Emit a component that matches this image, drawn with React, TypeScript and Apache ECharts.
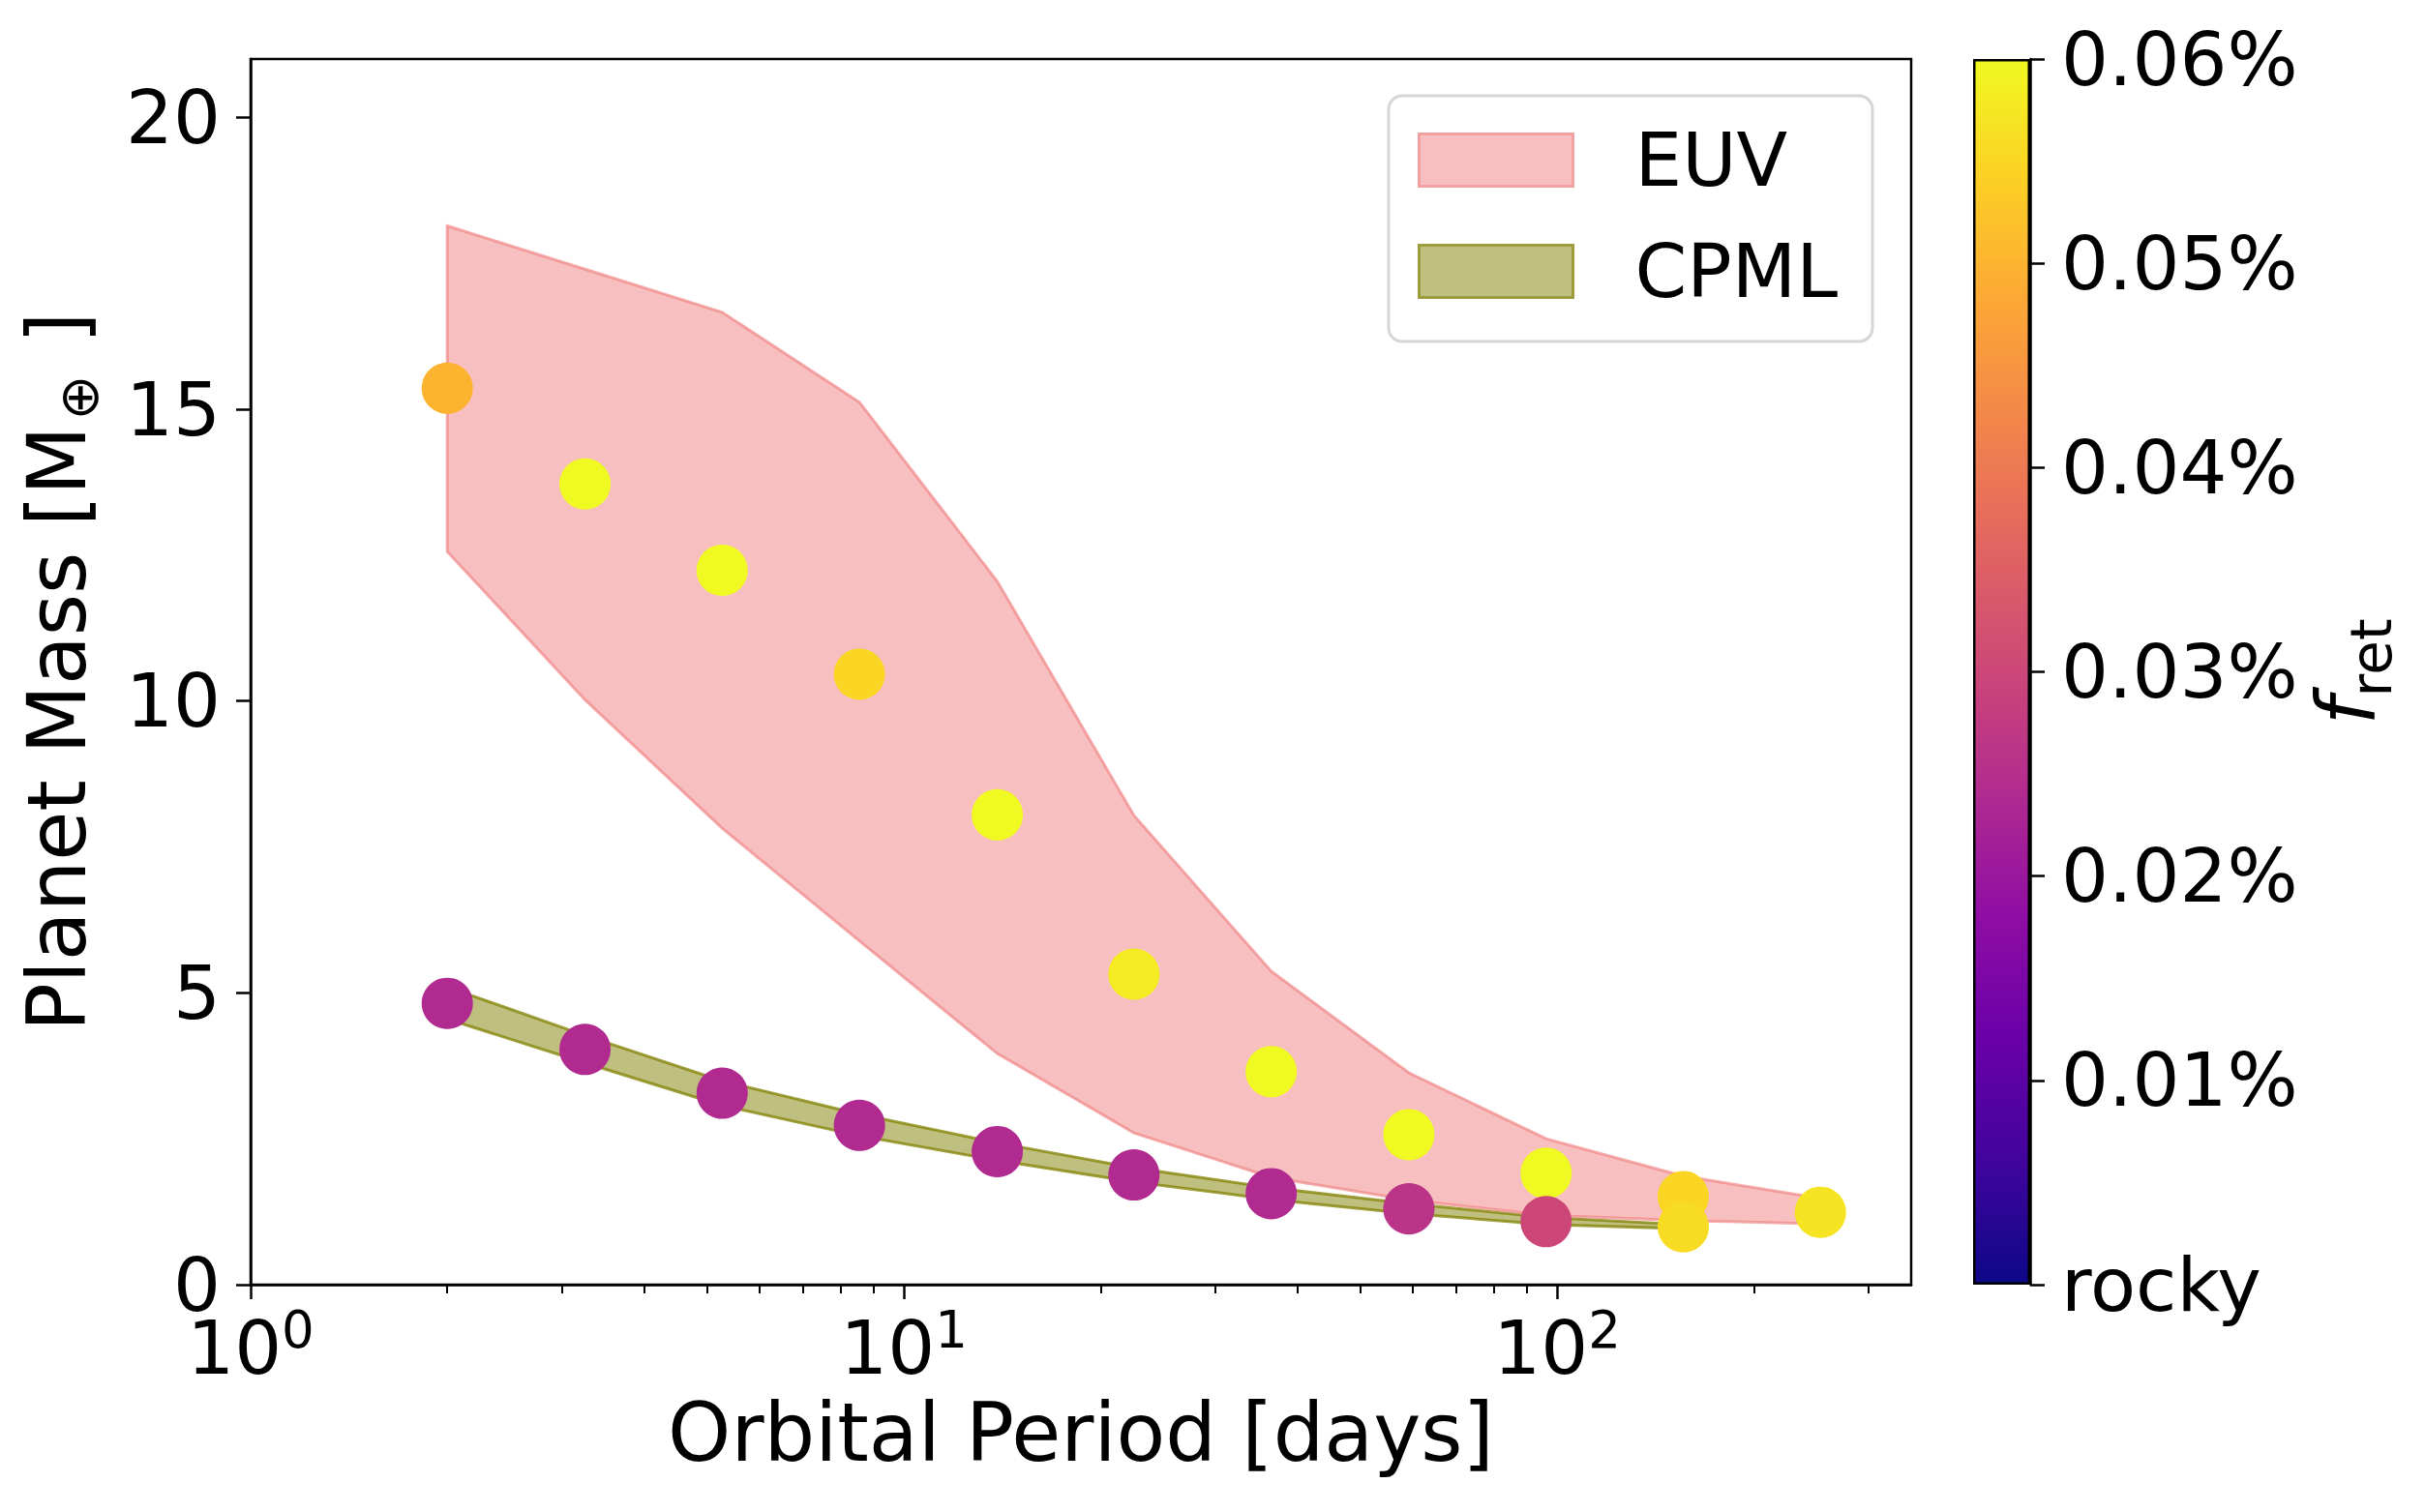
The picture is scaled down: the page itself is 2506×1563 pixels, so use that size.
import React, { useEffect, useRef } from "react";
import * as echarts from "echarts";

// ---- data ----
const periods = [2.0, 3.25, 5.27, 8.55, 13.9, 22.5, 36.5, 59.3, 96.2, 156, 253];
const euvMass = [15.36, 13.72, 12.24, 10.46, 8.05, 5.32, 3.65, 2.57, 1.91, 1.51, 1.24];
const euvFret = [0.05, 0.06, 0.06, 0.055, 0.06, 0.058, 0.06, 0.06, 0.06, 0.055, 0.057];
const cpmlMass = [4.82, 4.03, 3.28, 2.73, 2.28, 1.88, 1.56, 1.3, 1.08, 0.99];
const cpmlFret = [0.024, 0.024, 0.024, 0.024, 0.024, 0.024, 0.024, 0.026, 0.03, 0.056];
const euvUpper = [18.14, 17.4, 16.66, 15.12, 12.05, 8.04, 5.37, 3.63, 2.5, 1.86, 1.48];
const euvLower = [12.56, 10.02, 7.82, 5.89, 3.96, 2.6, 1.84, 1.45, 1.19, 1.1, 1.04];
const cpmlUpper = [5.1, 4.27, 3.49, 2.92, 2.43, 2.0, 1.66, 1.39, 1.15, 1.03];
const cpmlLower = [4.55, 3.8, 3.07, 2.55, 2.13, 1.76, 1.46, 1.22, 1.03, 0.96];

const yTicks = [0, 5, 10, 15, 20];
const xDecades = [0, 1, 2];
const xMinorValues = [2, 3, 4, 5, 6, 7, 8, 9, 20, 30, 40, 50, 60, 70, 80, 90, 200, 300];
const cbTicks = [0, 0.01, 0.02, 0.03, 0.04, 0.05, 0.06];
const plasma = [
  "#0d0887", "#41049d", "#6a00a8", "#8f0da4", "#b12a90", "#cc4778",
  "#e16462", "#f2844b", "#fca636", "#fcce25", "#f0f921",
];

const FONT = "DejaVu Sans";
const X_MAX = 2.542;

function bandSeries(name: string, upper: number[], lower: number[], fill: string, stroke: string) {
  return {
    type: "custom",
    name,
    xAxisIndex: 0,
    yAxisIndex: 0,
    data: [[Math.log10(periods[0]), upper[0]]],
    itemStyle: { color: fill },
    renderItem: (_p: any, api: any) => {
      const n = upper.length;
      const pts: number[][] = [];
      for (let i = 0; i < n; i++) pts.push(api.coord([Math.log10(periods[i]), upper[i]]));
      for (let i = n - 1; i >= 0; i--) pts.push(api.coord([Math.log10(periods[i]), lower[i]]));
      return {
        type: "polygon",
        shape: { points: pts },
        style: { fill, stroke, lineWidth: 3 },
      };
    },
  };
}

export default function App() {
  const ref = useRef<HTMLDivElement>(null);
  useEffect(() => {
    if (!ref.current) return;
    const chart = echarts.init(ref.current, null, { renderer: "svg" });
    const gradStops = plasma.map((c, i) => ({ offset: i / (plasma.length - 1), color: c }));
    const option: any = {
      animation: false,
      backgroundColor: "#ffffff",
      textStyle: { fontFamily: FONT },
      grid: [
        { left: 259, top: 61, width: 1716, height: 1267, show: true, borderColor: "#000", borderWidth: 2.5 },
        { left: 2039, top: 61, width: 59, height: 1267, show: false },
      ],
      xAxis: [
        {
          type: "value",
          gridIndex: 0,
          min: 0,
          max: X_MAX,
          splitLine: { show: false },
          axisLine: { show: true, onZero: false, lineStyle: { color: "#000", width: 2.5 } },
          axisTick: { show: true, customValues: xDecades, length: 15, lineStyle: { color: "#000", width: 2.5 } },
          axisLabel: {
            customValues: xDecades,
            margin: 20,
            formatter: (v: number) => `{b|10}{s|${Math.round(v)}}`,
            rich: {
              b: { fontSize: 77, fontFamily: FONT, color: "#000", lineHeight: 90 },
              s: { fontSize: 53, fontFamily: FONT, color: "#000", lineHeight: 53, verticalAlign: "top" },
            },
          },
          name: "Orbital Period [days]",
          nameLocation: "middle",
          nameGap: 112,
          nameTextStyle: { fontSize: 83, fontFamily: FONT, color: "#000" },
        },
        {
          type: "value",
          gridIndex: 0,
          min: 0,
          max: X_MAX,
          position: "bottom",
          splitLine: { show: false },
          axisLine: { show: false, onZero: false },
          axisLabel: { show: false },
          axisTick: {
            show: true,
            customValues: xMinorValues.map((v) => Math.log10(v)),
            length: 9,
            lineStyle: { color: "#000", width: 2 },
          },
        },
        {
          type: "category",
          gridIndex: 1,
          data: ["cb"],
          show: false,
        },
      ],
      yAxis: [
        {
          type: "value",
          gridIndex: 0,
          min: 0,
          max: 21,
          splitLine: { show: false },
          axisLine: { show: true, onZero: false, lineStyle: { color: "#000", width: 2.5 } },
          axisTick: { show: true, customValues: yTicks, length: 15, lineStyle: { color: "#000", width: 2.5 } },
          axisLabel: { customValues: yTicks, margin: 31, fontSize: 77, fontFamily: FONT, color: "#000" },
          name: "{a|Planet Mass [M}{s|⊕}{a| ]}",
          nameLocation: "middle",
          nameGap: 150,
          nameTextStyle: {
            rich: {
              a: { fontSize: 83, fontFamily: FONT, color: "#000", lineHeight: 100 },
              s: { fontSize: 56, fontFamily: FONT, color: "#000", lineHeight: 56, verticalAlign: "bottom", padding: [0, 6, 0, 6] },
            },
          },
        },
        {
          type: "value",
          gridIndex: 1,
          position: "right",
          min: 0,
          max: 0.06,
          splitLine: { show: false },
          axisLine: { show: true, onZero: false, lineStyle: { color: "#000", width: 2.5 } },
          axisTick: { show: true, customValues: cbTicks, length: 15, lineStyle: { color: "#000", width: 2.5 } },
          axisLabel: {
            customValues: cbTicks,
            margin: 32,
            fontSize: 77,
            fontFamily: FONT,
            color: "#000",
            formatter: (v: number) => (v === 0 ? "rocky" : (v * 1).toFixed(2) + "%"),
          },
          name: "{f|f}{s|ret}",
          nameLocation: "middle",
          nameGap: 272,
          nameRotate: 90,
          nameTextStyle: {
            rich: {
              f: { fontSize: 83, fontFamily: FONT, fontStyle: "italic", color: "#000", lineHeight: 110 },
              s: { fontSize: 58, fontFamily: FONT, color: "#000", lineHeight: 58, verticalAlign: "bottom" },
            },
          },
        },
      ],
      visualMap: [
        {
          type: "continuous",
          show: false,
          min: 0,
          max: 0.06,
          dimension: 2,
          seriesIndex: [3, 4],
          inRange: { color: plasma },
        },
      ],
      legend: {
        data: [
          { name: "EUV", icon: "rect", itemStyle: { color: "rgba(240,128,128,0.5)", borderColor: "#f2a0a0", borderWidth: 3 } },
          { name: "CPML", icon: "rect", itemStyle: { color: "rgba(128,128,0,0.5)", borderColor: "#9c9c3c", borderWidth: 3 } },
        ],
        orient: "vertical",
        left: 1435,
        top: 99,
        itemWidth: 159,
        itemHeight: 54,
        itemGap: 38,
        padding: [28, 36, 34, 30],
        backgroundColor: "rgba(255,255,255,0.8)",
        borderColor: "#d6d6d6",
        borderWidth: 3,
        borderRadius: 14,
        selectedMode: false,
        textStyle: { fontSize: 77, fontFamily: FONT, color: "#000", lineHeight: 54, padding: [0, 0, 0, 59] },
      },
      series: [
        bandSeries("CPML", cpmlUpper, cpmlLower, "rgba(128,128,0,0.5)", "rgba(128,128,0,0.75)"),
        bandSeries("EUV", euvUpper, euvLower, "rgba(240,128,128,0.5)", "rgba(240,128,128,0.65)"),
        {
          type: "bar",
          name: "colorbar",
          xAxisIndex: 2,
          yAxisIndex: 1,
          data: [0.06],
          barWidth: "100%",
          barCategoryGap: "0%",
          silent: true,
          itemStyle: {
            color: new echarts.graphic.LinearGradient(0, 1, 0, 0, gradStops),
            borderColor: "#000",
            borderWidth: 2.5,
          },
        },
        {
          type: "scatter",
          name: "EUV sims",
          xAxisIndex: 0,
          yAxisIndex: 0,
          symbolSize: 53,
          itemStyle: { opacity: 1 },
          data: periods.map((p, i) => [Math.log10(p), euvMass[i], euvFret[i]]),
        },
        {
          type: "scatter",
          name: "CPML sims",
          xAxisIndex: 0,
          yAxisIndex: 0,
          symbolSize: 53,
          itemStyle: { opacity: 1 },
          data: cpmlMass.map((m, i) => [Math.log10(periods[i]), m, cpmlFret[i]]),
        },
      ],
    };
    chart.setOption(option);
    return () => chart.dispose();
  }, []);
  return (
    <div
      ref={ref}
      style={{ position: "absolute", left: 0, top: 0, width: 2506, height: 1563, background: "#fff" }}
    />
  );
}
